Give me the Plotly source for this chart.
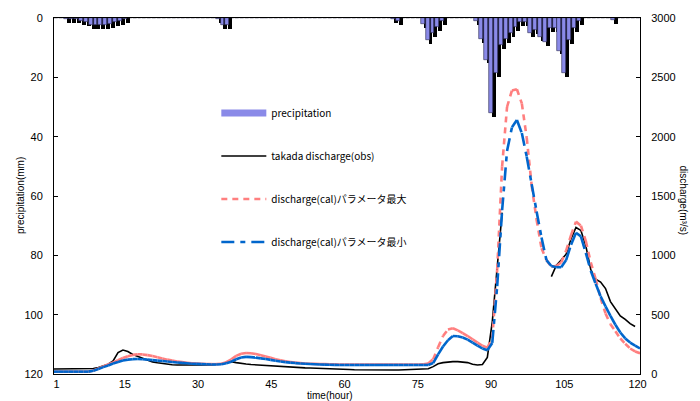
import plotly.graph_objects as go

hours = list(range(1, 121))

precip = [0, 0, 0.5, 0.5, 0.3, 1, 1.5, 2.5, 2.5, 2.5,
          2.5, 2, 1.5, 1, 0.3, 0, 0, 0, 0, 0,
          0, 0, 0, 0, 0, 0, 0, 0, 0, 0,
          0, 0, 0, 0.5, 2.5, 2.5, 0, 0, 0, 0,
          0, 0, 0, 0, 0, 0, 0, 0, 0, 0,
          0, 0, 0, 0, 0, 0, 0, 0, 0, 0,
          0, 0, 0, 0, 0, 0, 0, 0, 0, 0.5,
          1, 0, 0, 0, 0, 2, 7.5, 5, 3, 1,
          0, 0, 0, 0, 0, 0, 1, 7, 14, 32,
          18.5, 9, 7, 5, 3, 1.5, 1.5, 5, 4, 6.5,
          8, 3.5, 3.5, 11, 18.5, 7.5, 3.5, 1, 0, 0,
          0, 0, 0, 0, 0.8, 0, 0, 0, 0, 0]

q_obs = [42, 42, 42, 42, 42, 42, 42, 42, 46, 55,
         68, 82, 110, 180, 202, 190, 165, 148, 132, 115,
         102, 95, 88, 82, 78, 76, 75, 74, 74, 74,
         75, 76, 76, 78, 86, 98, 104, 96, 88, 84,
         80, 77, 74, 72, 70, 66, 62, 58, 56, 54,
         53, 52, 51, 50, 50, 48, 46, 44, 42, 40,
         38, 36, 35, 35, 34, 34, 34, 34, 34, 34,
         34, 35, 37, 39, 40, 41, 44, 62, 86, 96,
         101, 104, 104, 102, 96, 82, 76, 80, 140, 440,
         880, 1360, None, None, None, None, None, None, None, None,
         None, 820, 915, 960, 1010, 1140, 1235, 1210, 1080, 880,
         800, 775, 720, 610, 545, 490, 460, 425, 400, None]

q_max = [20, 20, 20, 20, 20, 20, 20, 20, 30, 46,
         63, 80, 98, 117, 135, 150, 161, 167, 165, 159,
         151, 141, 131, 121, 113, 106, 100, 95, 91, 88,
         86, 84, 83, 83, 87, 100, 124, 153, 171, 177,
         175, 168, 158, 147, 136, 125, 115, 107, 101, 96,
         92, 89, 87, 85, 84, 83, 82, 81, 80, 80,
         80, 80, 80, 80, 80, 80, 80, 80, 80, 80,
         80, 80, 80, 80, 80, 82, 88, 125, 225, 320,
         375, 385, 368, 345, 320, 293, 265, 238, 222, 300,
         880, 1750, 2250, 2390, 2400, 2280, 1990, 1590, 1300, 1060,
         960, 905, 910, 940, 1040, 1170, 1284, 1250, 1120, 940,
         800, 640, 510, 420, 360, 300, 255, 215, 190, 175]

q_min = [20, 20, 20, 20, 20, 20, 20, 20, 28, 42,
         58, 72, 88, 102, 113, 121, 125, 126, 124, 121,
         117, 113, 109, 105, 101, 97, 94, 90, 87, 85,
         83, 82, 80, 80, 82, 90, 104, 124, 139, 144,
         142, 138, 132, 126, 119, 112, 105, 100, 96, 92,
         89, 86, 84, 82, 80, 79, 78, 77, 76, 76,
         76, 76, 76, 76, 76, 76, 76, 76, 76, 76,
         76, 76, 76, 76, 76, 76, 76, 92, 165, 232,
         285, 320, 318, 308, 290, 265, 240, 215, 200, 262,
         740, 1380, 1880, 2080, 2140, 2030, 1830, 1600, 1370, 1150,
         960, 910, 900, 900, 960, 1090, 1190, 1160, 1020, 870,
         760, 655, 570, 490, 415, 350, 300, 265, 240, 215]

x_ticks = [1, 15, 30, 45, 60, 75, 90, 105, 120]
p_ticks = [0, 20, 40, 60, 80, 100, 120]
q_ticks = [0, 500, 1000, 1500, 2000, 2500, 3000]

names = ["precipitation", "takada discharge(obs)",
         "discharge(cal)パラメータ最大", "discharge(cal)パラメータ最小"]


def per_segment(xs, ys):
    # each hourly segment as its own sub-path so the dash pattern restarts (as in Excel)
    sx, sy = [], []
    for i in range(len(xs) - 1):
        if ys[i] is None or ys[i + 1] is None:
            continue
        sx += [xs[i], xs[i + 1], None]
        sy += [ys[i], ys[i + 1], None]
    return sx, sy


SHADOW_MM = 1.3
shadow = [v + SHADOW_MM if v > 0 else 0 for v in precip]

fig = go.Figure()

# legend proxy for the bars
fig.add_trace(go.Scatter(x=[None], y=[None], mode="lines", name=names[0],
                         line=dict(color="#8a8ae8", width=7),
                         legendgroup="g0", xaxis="x2", yaxis="y2"))

fig.add_trace(go.Bar(x=hours, y=shadow, marker=dict(color="black", line=dict(width=0)),
                     width=0.8, offset=-0.4 + 0.6, showlegend=False,
                     xaxis="x", yaxis="y"))
fig.add_trace(go.Bar(x=hours, y=precip,
                     marker=dict(color="#8a8ae8", line=dict(color="#26264d", width=0.6)),
                     width=0.8, offset=-0.4, showlegend=False,
                     xaxis="x", yaxis="y"))

fig.add_trace(go.Scatter(x=hours, y=q_obs, mode="lines", name=names[1],
                         line=dict(color="black", width=1.6), connectgaps=False,
                         legendgroup="g1", xaxis="x2", yaxis="y2"))

sx, sy = per_segment(hours, q_max)
fig.add_trace(go.Scatter(x=sx, y=sy, mode="lines", name=names[2],
                         line=dict(color="#ff7f7f", width=2.6, dash="6px,5px"),
                         connectgaps=False, legendgroup="g2", xaxis="x2", yaxis="y2"))

sx, sy = per_segment(hours, q_min)
fig.add_trace(go.Scatter(x=sx, y=sy, mode="lines", name=names[3],
                         line=dict(color="#0066cc", width=2.6, dash="13px,6px,5px,6px"),
                         connectgaps=False, legendgroup="g3", xaxis="x2", yaxis="y2"))

tick_font = dict(family="Liberation Sans, Arial, sans-serif", size=11, color="black")
title_font = dict(family="Liberation Sans, Arial, sans-serif", size=10, color="black")

fig.update_layout(
    width=700, height=401,
    margin=dict(l=54, r=60, t=18, b=27),
    paper_bgcolor="white", plot_bgcolor="white",
    barmode="overlay", bargap=0,
    showlegend=True,
    legend=dict(x=0.277, y=0.774, xanchor="left", yanchor="top",
                bgcolor="rgba(0,0,0,0)", traceorder="grouped", tracegroupgap=24,
                itemwidth=45,
                font=dict(family="Noto Sans CJK JP, sans-serif", size=10, color="black")),
    xaxis=dict(range=[0.5, 120.5], tickmode="array", tickvals=x_ticks,
               ticktext=[str(t) for t in x_ticks],
               showline=True, linecolor="black", linewidth=1, mirror=True,
               showgrid=False, zeroline=False, ticks="", tickfont=tick_font),
    xaxis2=dict(range=[1, 120], overlaying="x", visible=False, anchor="y2"),
    yaxis=dict(range=[120, 0], tickmode="array", tickvals=p_ticks,
               showline=True, linecolor="black", linewidth=1,
               showgrid=False, zeroline=False, ticks="inside", ticklen=4,
               tickcolor="black", tickfont=tick_font, ticklabelstandoff=8),
    yaxis2=dict(range=[0, 3000], tickmode="array", tickvals=q_ticks,
                overlaying="y", side="right", anchor="x2",
                showline=True, linecolor="black", linewidth=1,
                showgrid=False, zeroline=False, ticks="inside", ticklen=4,
                tickcolor="black", tickfont=tick_font, ticklabelstandoff=8),
    annotations=[
        dict(text="time(hour)", xref="paper", yref="paper", x=0.471, y=-0.059,
             xanchor="center", yanchor="middle", showarrow=False, font=title_font),
        dict(text="precipitation(mm)", xref="paper", yref="paper", x=-0.058, y=0.5,
             xanchor="center", yanchor="middle", textangle=-90, showarrow=False,
             font=title_font),
        dict(text="discharge(m³/s)", xref="paper", yref="paper", x=1.0734, y=0.49,
             xanchor="center", yanchor="middle", textangle=90, showarrow=False,
             font=title_font),
    ],
)

fig.write_html("out.html")
